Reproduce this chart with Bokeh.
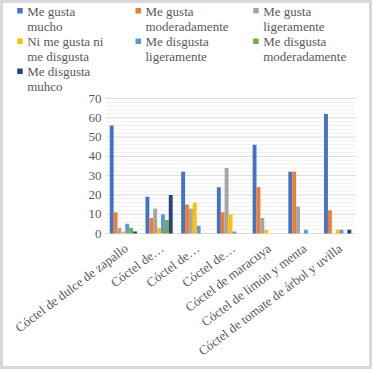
import math
from bokeh.plotting import figure
from bokeh.models import ColumnDataSource, Range1d
from bokeh.core.properties import value
from bokeh.transform import dodge
from bokeh.embed import file_html
from bokeh.resources import INLINE

categories = ["Cóctel de dulce de zapallo", "Cóctel de…", "Cóctel de…", "Cóctel de…",
              "Cóctel de maracuya", "Cóctel de limón y menta",
              "Cóctel de tomate de árbol y uvilla"]
series = ["Me gusta\nmucho", "Me gusta\nmoderadamente", "Me gusta\nligeramente",
          "Ni  me gusta ni\n me disgusta", "Me disgusta\nligeramente",
          "Me disgusta\nmoderadamente", "Me disgusta\nmuhco"]
colors = ["#4472C4", "#ED7D31", "#A5A5A5", "#FFC000", "#5B9BD5", "#70AD47", "#264478"]

gusta_mucho = [56, 19, 32, 24, 46, 32, 62]
gusta_moderadamente = [11, 8, 15, 11, 24, 32, 12]
gusta_ligeramente = [3, 13, 13, 34, 8, 14, 0]
ni_ni = [1, 3, 16, 10, 2, 0, 2]
disgusta_ligeramente = [5, 10, 4, 1, 0, 2, 2]
disgusta_moderadamente = [3, 7, 0, 0, 0, 0, 0]
disgusta_mucho = [1, 20, 0, 0, 0, 0, 2]
values = [gusta_mucho, gusta_moderadamente, gusta_ligeramente, ni_ni,
          disgusta_ligeramente, disgusta_moderadamente, disgusta_mucho]

y_ticks = [0, 10, 20, 30, 40, 50, 60, 70]
y_tick_labels = ["0", "10", "20", "30", "40", "50", "60", "70"]
y_minor_ticks = [v + m for v in y_ticks[:-1] for m in (2, 4, 6, 8)]

# ---- layout (pixels) ----
W, H = 372, 369
PL, PR, PT, PB = 105, 355, 98, 233          # plot area in canvas pixels
X0, X1 = -0.5, len(categories) - 0.5
Y0, Y1 = y_ticks[0], y_ticks[-1]
ux = (X1 - X0) / (PR - PL)
uy = (Y1 - Y0) / (PB - PT)


def px_x(px):
    return X0 + (px - PL) * ux


def px_y(py):
    return Y1 - (py - PT) * uy


serif = "'Liberation Serif', 'Times New Roman', serif"
lab_col = "#595959"
fsize = "13px"

p = figure(width=W, height=H, output_backend="svg", toolbar_location=None,
           x_range=Range1d(px_x(0), px_x(W)), y_range=Range1d(px_y(H), px_y(0)),
           x_axis_type=None, y_axis_type=None, min_border=0)
p.grid.visible = False
p.background_fill_color = "white"
p.border_fill_color = "white"
p.outline_line_color = "#d9d9d9"
p.outline_line_width = 5

# gridlines (minor, then major) over the plot area
p.segment(x0=X0, x1=X1, y0=y_minor_ticks, y1=y_minor_ticks,
          line_color="#efefef", line_width=1)
p.segment(x0=X0, x1=X1, y0=y_ticks, y1=y_ticks, line_color="#d9d9d9", line_width=1)

# y tick labels
p.text(x=px_x(PL - 4), y=y_ticks, text=y_tick_labels, text_align="right",
       text_baseline="middle", text_font=value(serif), text_font_size=fsize,
       text_color=lab_col)

# bars
src = ColumnDataSource(dict(x=list(range(len(categories))),
                            **{f"s{i}": v for i, v in enumerate(values)}))
bw = 1 / 9.19
for i, c in enumerate(colors):
    p.vbar(x=dodge("x", (i - 3) * bw, range=p.x_range), top=f"s{i}", bottom=0,
           width=bw, source=src, fill_color=c, line_color=None)

# category labels (rotated)
lab_src = ColumnDataSource(dict(x=list(range(len(categories))),
                                y=[px_y(PB + 13)] * len(categories), text=categories))
p.text(x=dodge("x", 3 * ux, range=p.x_range), y="y", text="text", source=lab_src,
       angle=math.radians(37), text_align="right", text_baseline="middle",
       text_font=value(serif), text_font_size=fsize, text_color=lab_col)

# legend (3 columns)
col_px = [16.7, 135, 252.7]
row_px = [10.3, 40.8, 70.8]
n = len(series)
leg_src = ColumnDataSource(dict(
    name=series, color=colors,
    sx=[px_x(col_px[i % 3] + 2.75) for i in range(n)],
    sy=[px_y(row_px[i // 3]) for i in range(n)],
    tx=[px_x(col_px[i % 3] + 10) for i in range(n)],
    ty=[px_y(row_px[i // 3] - 7.3) for i in range(n)]))
p.rect(x="sx", y="sy", width=5.5 * ux, height=5.5 * uy, fill_color="color",
       line_color=None, source=leg_src)
p.text(x="tx", y="ty", text="name", source=leg_src, text_font=value(serif),
       text_font_size=fsize, text_color=lab_col, text_baseline="top",
       text_align="left", text_line_height=1.0)

open("out.html", "w").write(file_html(p, INLINE))
